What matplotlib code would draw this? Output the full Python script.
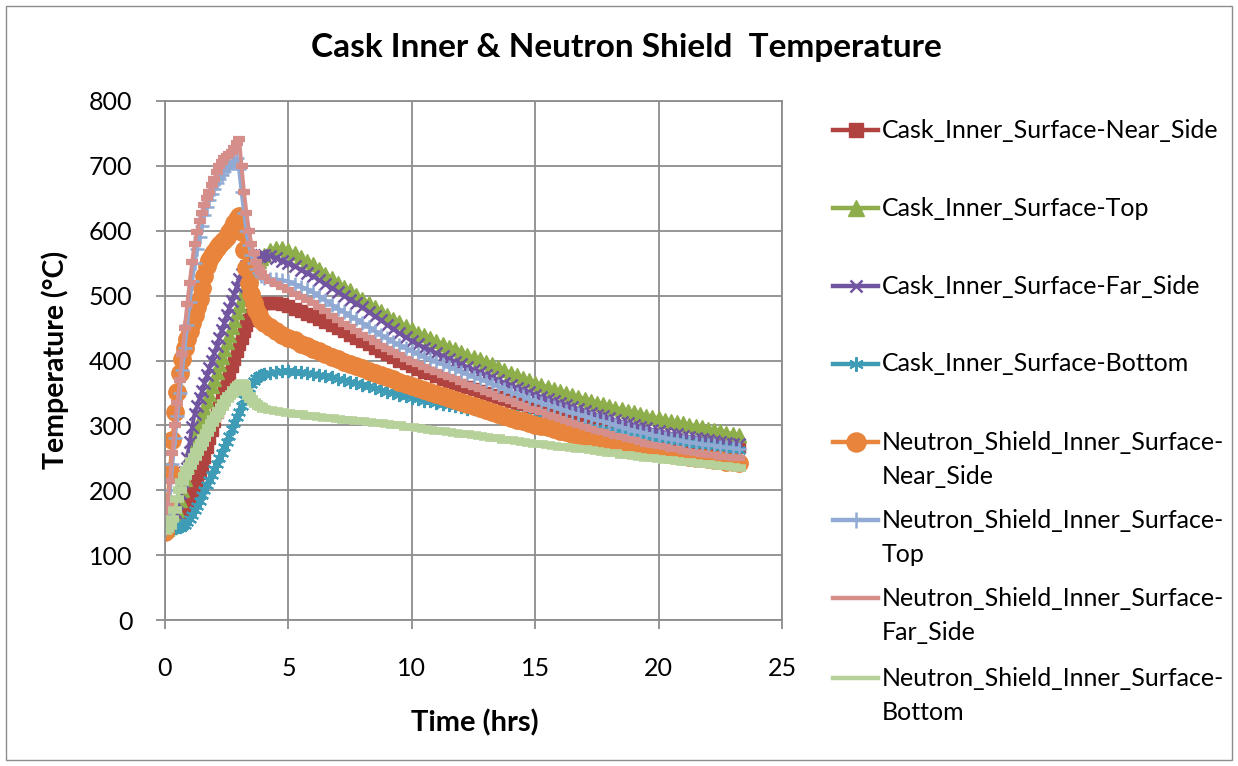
import numpy as np
import matplotlib.pyplot as plt
from matplotlib.lines import Line2D
from matplotlib.patches import Rectangle

plt.rcParams['font.family'] = ['Lato', 'DejaVu Sans']

# time grid: 0.1 h steps during the fire, 0.25 h steps during cool-down
time_hrs = np.concatenate([np.round(np.arange(0, 4.01, 0.1), 2),
                           np.round(np.arange(4.25, 23.26, 0.25), 2)])

cask_near = [145, 145, 146, 147, 148, 150, 155, 160, 167, 175,
             185, 195, 205, 215, 226, 238, 252, 266, 280, 293,
             306, 320, 333, 346, 358, 370, 381, 392, 403, 414,
             425, 435, 445, 455, 463, 470, 476, 481, 484, 487, 488,
             489, 489, 487, 484, 480, 476, 472, 468, 464, 459, 455, 450,
             445, 440, 435, 430, 425, 420, 415, 410, 405, 400, 396, 391,
             387, 383, 380, 376, 372, 369, 365, 362, 359, 356, 353, 350,
             347, 344, 341, 338, 335, 333, 330, 328, 325, 322, 319, 316,
             313, 310, 308, 305, 302, 300, 297, 295, 293, 290, 288, 286,
             284, 282, 281, 279, 278, 276, 275, 274, 273, 272, 271, 270,
             269, 268, 268, 267, 266]
cask_top = [140, 141, 143, 148, 158, 170, 185, 200, 218, 237,
            255, 267, 279, 291, 303, 315, 327, 338, 349, 360,
            372, 383, 394, 405, 417, 428, 440, 451, 462, 474,
            485, 495, 505, 515, 524, 532, 540, 547, 553, 558, 562,
            570, 574, 573, 570, 565, 560, 554, 548, 541, 534, 527, 520,
            514, 508, 501, 495, 489, 483, 476, 470, 464, 459, 453, 448,
            443, 439, 434, 430, 426, 421, 417, 413, 409, 405, 402, 398,
            394, 390, 385, 381, 377, 373, 370, 366, 363, 359, 356, 353,
            350, 347, 344, 341, 338, 335, 333, 330, 327, 325, 322, 320,
            318, 315, 313, 311, 309, 307, 305, 303, 301, 299, 297, 295,
            293, 291, 289, 287, 285]
cask_far = [140, 142, 146, 155, 166, 180, 195, 212, 228, 250,
            275, 298, 318, 330, 342, 353, 365, 377, 389, 400,
            412, 423, 435, 447, 458, 470, 481, 492, 503, 514,
            525, 533, 540, 546, 551, 555, 558, 560, 561, 562, 562,
            561, 558, 554, 550, 545, 540, 535, 530, 524, 518, 512, 506,
            500, 494, 488, 482, 475, 468, 462, 455, 449, 442, 436, 430,
            425, 420, 416, 411, 407, 403, 398, 394, 390, 386, 382, 378,
            374, 370, 366, 362, 358, 354, 351, 347, 344, 340, 337, 334,
            331, 328, 325, 322, 319, 316, 314, 311, 308, 305, 303, 300,
            298, 296, 293, 291, 289, 287, 286, 284, 282, 281, 279, 278,
            276, 275, 273, 272, 271]
cask_bottom = [140, 140, 141, 141, 142, 143, 144, 145, 147, 151,
               156, 162, 169, 176, 184, 192, 200, 208, 216, 224,
               232, 240, 249, 258, 266, 274, 284, 294, 304, 313,
               321, 330, 340, 350, 358, 364, 369, 373, 376, 378, 379,
               381, 383, 384, 384, 383, 382, 381, 379, 377, 376, 374, 372,
               370, 367, 365, 362, 360, 357, 355, 352, 350, 347, 345, 342,
               340, 338, 337, 335, 333, 331, 330, 328, 326, 325, 323, 322,
               320, 319, 317, 316, 315, 313, 312, 311, 309, 308, 306, 305,
               303, 302, 300, 299, 297, 296, 294, 293, 291, 290, 288, 287,
               285, 284, 282, 281, 279, 278, 276, 275, 273, 272, 270, 269,
               268, 266, 265, 264, 262]
ns_near = [135, 180, 230, 278, 320, 352, 380, 402, 420, 433,
           445, 458, 470, 482, 495, 512, 530, 545, 555, 562,
           568, 573, 578, 582, 586, 591, 598, 605, 612, 618,
           622, 598, 570, 543, 520, 502, 488, 478, 470, 463, 458,
           451, 445, 440, 435, 431, 426, 422, 418, 414, 410, 406, 402,
           398, 395, 391, 388, 384, 381, 377, 374, 371, 367, 364, 361,
           358, 354, 351, 348, 345, 342, 339, 336, 333, 330, 327, 324,
           321, 318, 315, 312, 309, 306, 304, 301, 299, 297, 294, 292,
           290, 287, 285, 283, 281, 279, 277, 275, 273, 271, 269, 267,
           265, 263, 261, 259, 257, 256, 254, 253, 252, 250, 249, 248,
           247, 246, 244, 243, 242]
ns_top = [140, 165, 200, 240, 280, 315, 350, 385, 420, 455,
          490, 522, 550, 572, 590, 608, 625, 637, 648, 657,
          665, 673, 680, 686, 692, 696, 700, 704, 708, 712,
          695, 660, 628, 600, 578, 562, 550, 541, 535, 530, 527,
          526, 525, 524, 522, 518, 514, 510, 505, 499, 493, 486, 480,
          475, 469, 464, 458, 452, 446, 440, 434, 429, 424, 419, 414,
          410, 406, 402, 398, 394, 390, 387, 383, 379, 375, 372, 368,
          364, 360, 356, 352, 348, 345, 341, 338, 335, 331, 328, 325,
          322, 319, 317, 314, 311, 308, 306, 303, 300, 297, 295, 292,
          290, 288, 285, 283, 281, 279, 278, 276, 274, 273, 271, 270,
          269, 267, 266, 265, 264]
ns_far = [140, 175, 215, 258, 300, 335, 370, 410, 450, 487,
          520, 552, 580, 598, 615, 628, 640, 650, 660, 670,
          680, 690, 700, 706, 712, 715, 718, 722, 728, 735,
          742, 700, 660, 628, 600, 580, 565, 552, 542, 535, 529,
          523, 518, 513, 508, 503, 498, 493, 488, 482, 476, 469, 463,
          457, 452, 446, 440, 434, 429, 423, 418, 413, 408, 403, 398,
          394, 390, 386, 382, 378, 374, 371, 367, 363, 359, 356, 352,
          348, 344, 341, 337, 333, 330, 326, 323, 320, 316, 313, 310,
          307, 304, 301, 298, 295, 292, 290, 287, 284, 282, 279, 277,
          275, 272, 270, 268, 266, 264, 263, 261, 259, 258, 256, 255,
          254, 252, 251, 250, 249]
ns_bottom = [137, 140, 145, 155, 170, 186, 200, 212, 222, 231,
             238, 245, 252, 259, 266, 273, 280, 288, 296, 303,
             310, 316, 322, 328, 334, 340, 345, 349, 354, 359,
             363, 365, 362, 352, 345, 340, 336, 333, 330, 328, 326,
             324, 322, 321, 319, 318, 317, 315, 314, 313, 312, 311, 310,
             309, 308, 307, 306, 305, 304, 303, 302, 301, 300, 298, 297,
             296, 295, 293, 292, 291, 290, 288, 287, 286, 285, 283, 282,
             281, 280, 278, 277, 276, 275, 273, 272, 271, 270, 268, 267,
             266, 265, 264, 263, 262, 260, 259, 258, 257, 255, 254, 253,
             252, 250, 249, 248, 247, 246, 245, 244, 243, 242, 241, 240,
             239, 238, 237, 236, 235]

labels = ['Cask_Inner_Surface-Near_Side', 'Cask_Inner_Surface-Top',
          'Cask_Inner_Surface-Far_Side', 'Cask_Inner_Surface-Bottom',
          'Neutron_Shield_Inner_Surface-\nNear_Side', 'Neutron_Shield_Inner_Surface-\nTop',
          'Neutron_Shield_Inner_Surface-\nFar_Side', 'Neutron_Shield_Inner_Surface-\nBottom']
series = [cask_near, cask_top, cask_far, cask_bottom, ns_near, ns_top, ns_far, ns_bottom]

colors = ['#B0433F', '#8DAE4B', '#7155A0', '#3F9CB7', '#E8843B', '#90AAD4', '#D68E8B', '#B6D199']
# marker, size, edge width
markers = [('s', 9, 1), ('^', 10, 1), ('x', 8.5, 1.8), ((6, 2, 0), 9.5, 1.5),
           ('o', 12.5, 1), ('+', 10, 1.8), ('_', 9, 4.5), ('_', 10, 5.5)]

W, H = 1238, 766
fig = plt.figure(figsize=(W / 100, H / 100), dpi=100)
ax = fig.add_axes([165 / W, 1 - 620 / H, 617 / W, 519 / H])

for vals, c, (m, ms, mew) in zip(series, colors, markers):
    ax.plot(time_hrs, vals, color=c, lw=2.8, marker=m, ms=ms, mew=mew,
            mec=c, mfc=c, solid_joinstyle='round')

ax.set_xlim(0, 25)
ax.set_ylim(0, 800)
ax.set_xticks(range(0, 26, 5))
ax.set_yticks(range(0, 801, 100))
ax.grid(True, color='#8C8C8C', lw=1.3)
ax.set_axisbelow(True)
for s in ax.spines.values():
    s.set_color('#8C8C8C')
    s.set_linewidth(1.3)
ax.tick_params(length=6.5, width=1.3, color='#8C8C8C', labelsize=18)
ax.tick_params(axis='x', pad=20)
ax.tick_params(axis='y', pad=17)

fig.text(626 / W, 1 - 47 / H, 'Cask Inner & Neutron Shield  Temperature',
         ha='center', va='center', fontsize=24, fontweight='bold')
fig.text(475 / W, 1 - 723 / H, 'Time (hrs)', ha='center', va='center',
         fontsize=21, fontweight='bold')
fig.text(55 / W, 1 - 360 / H, 'Temperature (°C)', ha='center', va='center',
         rotation=90, fontsize=20.5, fontweight='bold')

# legend drawn by hand so the handle sits on the first line of wrapped labels
legend_y = [130, 208, 286, 364, 442, 520, 598, 678]
for y, lab, c, (m, ms, mew) in zip(legend_y, labels, colors, markers):
    fy = 1 - y / H
    fig.add_artist(Line2D([833 / W, 878 / W], [fy, fy], color=c, lw=3.2,
                          transform=fig.transFigure))
    if m != '_':  # dash markers vanish into the line in the legend
        fig.add_artist(Line2D([855.5 / W], [fy], color=c, marker=m, ms=ms * 1.1,
                              mew=mew, mec=c, mfc=c, transform=fig.transFigure))
    fig.text(882 / W, fy, lab.split('\n')[0], ha='left', va='center', fontsize=18)
    if '\n' in lab:
        fig.text(882 / W, fy - 34 / H, lab.split('\n')[1], ha='left', va='center', fontsize=18)

fig.add_artist(Rectangle((6 / W, 6 / H), 1 - 12 / W, 1 - 12 / H, fill=False,
                         edgecolor='#8C8C8C', lw=1, transform=fig.transFigure))

fig.savefig('out.png', dpi=100)
